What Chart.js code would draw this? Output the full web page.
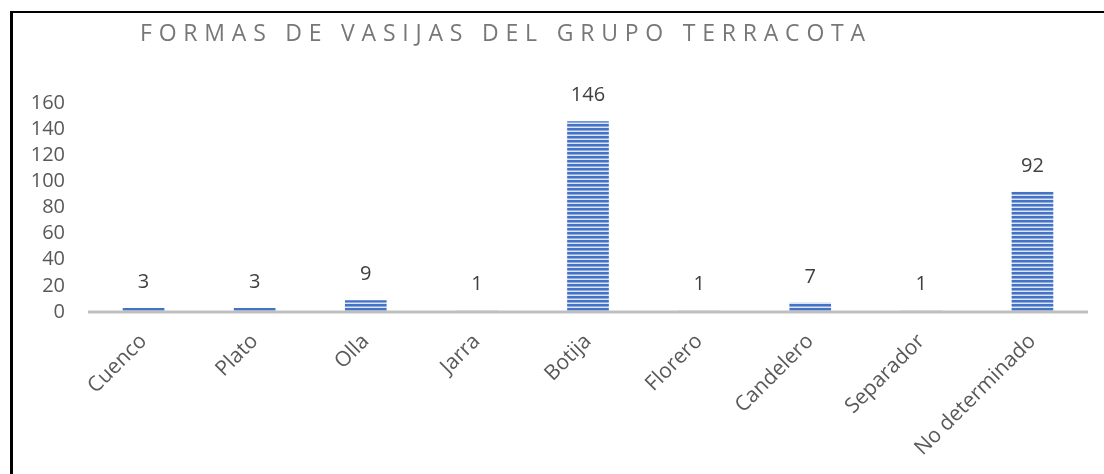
<!DOCTYPE html>
<html>
<head>
<meta charset="utf-8">
<script src="https://cdn.jsdelivr.net/npm/chart.js@4.4.1/dist/chart.umd.min.js"></script>
<style>
  html, body { margin: 0; padding: 0; background: #ffffff; }
  #wrap { width: 1104px; height: 474px; position: relative; }
</style>
</head>
<body>
<div id="wrap"><canvas id="c" width="1104" height="474"></canvas></div>
<script>
// Vessel forms of the Terracota group
const chartTitle = 'FORMAS DE VASIJAS DEL GRUPO TERRACOTA';
const categories = ['Cuenco', 'Plato', 'Olla', 'Jarra', 'Botija', 'Florero', 'Candelero', 'Separador', 'No determinado'];
const counts = [3, 3, 9, 1, 146, 1, 7, 1, 92];
const yTicks = [0, 20, 40, 60, 80, 100, 120, 140, 160];

const FONT = '"Open Sans", "DejaVu Sans", sans-serif';

// horizontal-stripe fill for the bars
function stripePattern() {
  const p = document.createElement('canvas');
  p.width = 4; p.height = 4;
  const g = p.getContext('2d');
  g.fillStyle = '#4472c4'; g.fillRect(0, 0, 4, 2);
  g.fillStyle = '#8eaadf'; g.fillRect(0, 2, 4, 1);
  g.fillStyle = '#dce5f5'; g.fillRect(0, 3, 4, 1);
  return document.getElementById('c').getContext('2d').createPattern(p, 'repeat');
}

// frame, title, value labels and baseline
const decorations = {
  id: 'decorations',
  afterDatasetsDraw(chart) {
    const ctx = chart.ctx;
    const area = chart.chartArea;
    const y0 = chart.scales.y.getPixelForValue(0);

    // baseline drawn over the bars
    ctx.save();
    ctx.strokeStyle = '#bfbfbf';
    ctx.lineWidth = 3;
    ctx.beginPath();
    ctx.moveTo(area.left, y0);
    ctx.lineTo(area.right, y0);
    ctx.stroke();
    ctx.restore();

    // value labels above each bar
    const meta = chart.getDatasetMeta(0);
    ctx.save();
    ctx.fillStyle = '#404040';
    ctx.font = '20px ' + FONT;
    ctx.textAlign = 'center';
    ctx.textBaseline = 'middle';
    meta.data.forEach((bar, i) => {
      ctx.fillText(String(counts[i]), bar.x, bar.y - 26);
    });
    ctx.restore();
  },
  afterDraw(chart) {
    const ctx = chart.ctx;
    // title with wide letter spacing
    ctx.save();
    ctx.fillStyle = '#777777';
    ctx.font = '23px ' + FONT;
    ctx.textBaseline = 'middle';
    ctx.textAlign = 'left';
    const plain = ctx.measureText(chartTitle).width;
    const spacing = Math.max(0, (725 - plain) / (chartTitle.length - 1));
    ctx.letterSpacing = spacing.toFixed(2) + 'px';
    ctx.fillText(chartTitle, 140, 34);
    ctx.restore();

    // black frame on the left and top
    ctx.save();
    ctx.fillStyle = '#000000';
    ctx.fillRect(10, 11, 3, chart.height - 11);
    ctx.fillRect(10, 11, chart.width - 10, 2);
    ctx.restore();
  }
};

new Chart(document.getElementById('c'), {
  type: 'bar',
  data: {
    labels: categories,
    datasets: [{
      data: counts,
      backgroundColor: stripePattern(),
      borderWidth: 0,
      categoryPercentage: 1.0,
      barPercentage: 0.375
    }]
  },
  options: {
    responsive: false,
    animation: false,
    devicePixelRatio: 1,
    layout: { padding: { left: 0, right: 16, top: 103, bottom: 0 } },
    plugins: {
      legend: { display: false },
      title: { display: false },
      tooltip: { enabled: false }
    },
    scales: {
      x: {
        grid: { display: false, drawTicks: false },
        border: { display: false },
        afterFit(scale) { scale.height = 162; },
        ticks: {
          color: '#595959',
          font: { family: FONT, size: 21 },
          maxRotation: 45,
          minRotation: 45,
          padding: 17,
          autoSkip: false
        }
      },
      y: {
        min: 0,
        max: 160,
        grid: { display: false, drawTicks: false },
        border: { display: false },
        afterFit(scale) { scale.width = 88; },
        afterBuildTicks(scale) { scale.ticks = yTicks.map(v => ({ value: v })); },
        ticks: {
          color: '#595959',
          font: { family: FONT, size: 20 },
          padding: 23,
          autoSkip: false
        }
      }
    }
  },
  plugins: [decorations]
});
</script>
</body>
</html>
